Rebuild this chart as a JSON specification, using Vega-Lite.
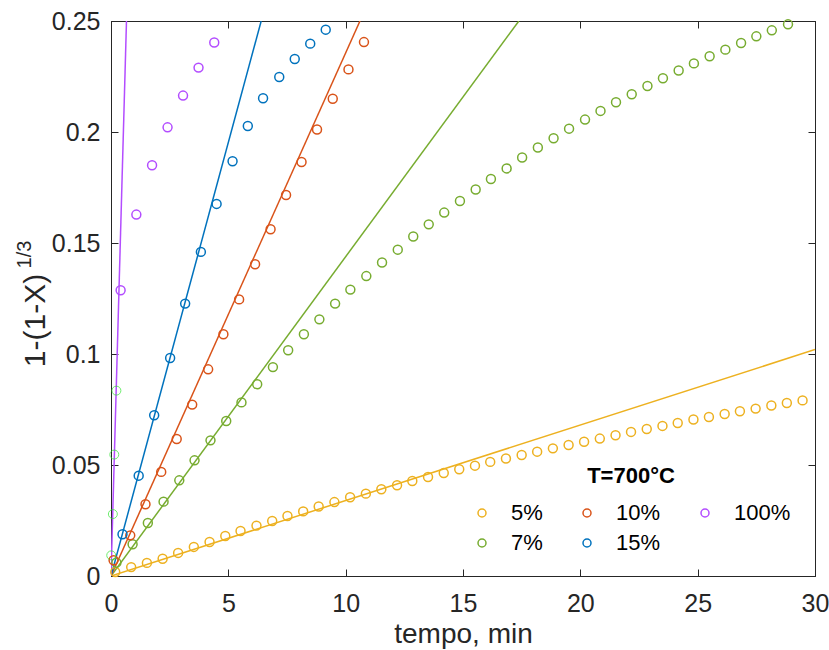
{
  "$schema": "https://vega.github.io/schema/vega-lite/v6.json",
  "width": 704,
  "height": 555,
  "autosize": {"type": "none"},
  "padding": {"left": 111, "top": 21, "right": 14, "bottom": 74},
  "background": "white",
  "datasets": {
    "pontos": [
      {"s": "5%", "t": 0.18, "y": 0.0018}, {"s": "5%", "t": 0.86, "y": 0.0040}, {"s": "5%", "t": 1.53, "y": 0.0059},
      {"s": "5%", "t": 2.20, "y": 0.0078}, {"s": "5%", "t": 2.86, "y": 0.0104}, {"s": "5%", "t": 3.53, "y": 0.0131},
      {"s": "5%", "t": 4.20, "y": 0.0153}, {"s": "5%", "t": 4.87, "y": 0.0180}, {"s": "5%", "t": 5.52, "y": 0.0203},
      {"s": "5%", "t": 6.20, "y": 0.0227}, {"s": "5%", "t": 6.87, "y": 0.0248}, {"s": "5%", "t": 7.52, "y": 0.0270},
      {"s": "5%", "t": 8.19, "y": 0.0291}, {"s": "5%", "t": 8.85, "y": 0.0313}, {"s": "5%", "t": 9.52, "y": 0.0333},
      {"s": "5%", "t": 10.19, "y": 0.0355}, {"s": "5%", "t": 10.86, "y": 0.0371}, {"s": "5%", "t": 11.52, "y": 0.0391},
      {"s": "5%", "t": 12.19, "y": 0.0409}, {"s": "5%", "t": 12.84, "y": 0.0428}, {"s": "5%", "t": 13.51, "y": 0.0446},
      {"s": "5%", "t": 14.18, "y": 0.0464}, {"s": "5%", "t": 14.84, "y": 0.0481}, {"s": "5%", "t": 15.51, "y": 0.0497},
      {"s": "5%", "t": 16.16, "y": 0.0514}, {"s": "5%", "t": 16.83, "y": 0.0529}, {"s": "5%", "t": 17.50, "y": 0.0545},
      {"s": "5%", "t": 18.16, "y": 0.0560}, {"s": "5%", "t": 18.83, "y": 0.0575}, {"s": "5%", "t": 19.50, "y": 0.0590},
      {"s": "5%", "t": 20.16, "y": 0.0605}, {"s": "5%", "t": 20.83, "y": 0.0619}, {"s": "5%", "t": 21.50, "y": 0.0634},
      {"s": "5%", "t": 22.16, "y": 0.0649}, {"s": "5%", "t": 22.83, "y": 0.0662}, {"s": "5%", "t": 23.50, "y": 0.0676},
      {"s": "5%", "t": 24.15, "y": 0.0689}, {"s": "5%", "t": 24.82, "y": 0.0705}, {"s": "5%", "t": 25.48, "y": 0.0716},
      {"s": "5%", "t": 26.15, "y": 0.0730}, {"s": "5%", "t": 26.80, "y": 0.0742}, {"s": "5%", "t": 27.47, "y": 0.0754},
      {"s": "5%", "t": 28.14, "y": 0.0768}, {"s": "5%", "t": 28.80, "y": 0.0779}, {"s": "5%", "t": 29.47, "y": 0.0791},

      {"s": "7%", "t": 0.23, "y": 0.0060}, {"s": "7%", "t": 0.92, "y": 0.0143}, {"s": "7%", "t": 1.57, "y": 0.0239},
      {"s": "7%", "t": 2.24, "y": 0.0335}, {"s": "7%", "t": 2.91, "y": 0.0431}, {"s": "7%", "t": 3.56, "y": 0.0521},
      {"s": "7%", "t": 4.24, "y": 0.0611}, {"s": "7%", "t": 4.91, "y": 0.0698}, {"s": "7%", "t": 5.56, "y": 0.0782},
      {"s": "7%", "t": 6.23, "y": 0.0864}, {"s": "7%", "t": 6.90, "y": 0.0941}, {"s": "7%", "t": 7.55, "y": 0.1017},
      {"s": "7%", "t": 8.22, "y": 0.1089}, {"s": "7%", "t": 8.88, "y": 0.1156}, {"s": "7%", "t": 9.55, "y": 0.1227},
      {"s": "7%", "t": 10.20, "y": 0.1290}, {"s": "7%", "t": 10.88, "y": 0.1351}, {"s": "7%", "t": 11.55, "y": 0.1412},
      {"s": "7%", "t": 12.22, "y": 0.1470}, {"s": "7%", "t": 12.88, "y": 0.1529}, {"s": "7%", "t": 13.54, "y": 0.1584},
      {"s": "7%", "t": 14.20, "y": 0.1637}, {"s": "7%", "t": 14.87, "y": 0.1689}, {"s": "7%", "t": 15.54, "y": 0.1741},
      {"s": "7%", "t": 16.19, "y": 0.1788}, {"s": "7%", "t": 16.86, "y": 0.1836}, {"s": "7%", "t": 17.52, "y": 0.1885},
      {"s": "7%", "t": 18.19, "y": 0.1930}, {"s": "7%", "t": 18.86, "y": 0.1972}, {"s": "7%", "t": 19.52, "y": 0.2015},
      {"s": "7%", "t": 20.20, "y": 0.2056}, {"s": "7%", "t": 20.86, "y": 0.2095}, {"s": "7%", "t": 21.52, "y": 0.2134},
      {"s": "7%", "t": 22.19, "y": 0.2170}, {"s": "7%", "t": 22.86, "y": 0.2207}, {"s": "7%", "t": 23.52, "y": 0.2242},
      {"s": "7%", "t": 24.19, "y": 0.2277}, {"s": "7%", "t": 24.84, "y": 0.2309}, {"s": "7%", "t": 25.51, "y": 0.2341},
      {"s": "7%", "t": 26.18, "y": 0.2371}, {"s": "7%", "t": 26.85, "y": 0.2401}, {"s": "7%", "t": 27.50, "y": 0.2431},
      {"s": "7%", "t": 28.16, "y": 0.2458}, {"s": "7%", "t": 28.85, "y": 0.2485},

      {"s": "10%", "t": 0.11, "y": 0.0071}, {"s": "10%", "t": 0.82, "y": 0.0183}, {"s": "10%", "t": 1.47, "y": 0.0323},
      {"s": "10%", "t": 2.14, "y": 0.0469}, {"s": "10%", "t": 2.80, "y": 0.0617}, {"s": "10%", "t": 3.46, "y": 0.0772},
      {"s": "10%", "t": 4.14, "y": 0.0931}, {"s": "10%", "t": 4.79, "y": 0.1089}, {"s": "10%", "t": 5.46, "y": 0.1246},
      {"s": "10%", "t": 6.14, "y": 0.1404}, {"s": "10%", "t": 6.80, "y": 0.1562}, {"s": "10%", "t": 7.46, "y": 0.1716},
      {"s": "10%", "t": 8.12, "y": 0.1865}, {"s": "10%", "t": 8.78, "y": 0.2011}, {"s": "10%", "t": 9.45, "y": 0.2150},
      {"s": "10%", "t": 10.12, "y": 0.2282}, {"s": "10%", "t": 10.78, "y": 0.2405},

      {"s": "15%", "t": 0.49, "y": 0.0188}, {"s": "15%", "t": 1.18, "y": 0.0452}, {"s": "15%", "t": 1.84, "y": 0.0724},
      {"s": "15%", "t": 2.52, "y": 0.0982}, {"s": "15%", "t": 3.16, "y": 0.1227}, {"s": "15%", "t": 3.83, "y": 0.1460},
      {"s": "15%", "t": 4.50, "y": 0.1676}, {"s": "15%", "t": 5.18, "y": 0.1868}, {"s": "15%", "t": 5.83, "y": 0.2027},
      {"s": "15%", "t": 6.48, "y": 0.2152}, {"s": "15%", "t": 7.17, "y": 0.2248}, {"s": "15%", "t": 7.83, "y": 0.2329},
      {"s": "15%", "t": 8.49, "y": 0.2398}, {"s": "15%", "t": 9.15, "y": 0.2461},

      {"s": "100%", "t": 0.41, "y": 0.1287}, {"s": "100%", "t": 1.08, "y": 0.1628}, {"s": "100%", "t": 1.75, "y": 0.1850},
      {"s": "100%", "t": 2.41, "y": 0.2021}, {"s": "100%", "t": 3.07, "y": 0.2164}, {"s": "100%", "t": 3.73, "y": 0.2290},
      {"s": "100%", "t": 4.40, "y": 0.2403}
    ],
    "iniciais": [
      {"t": 0.01, "y": 0.0093}, {"t": 0.08, "y": 0.0279}, {"t": 0.14, "y": 0.0547}, {"t": 0.23, "y": 0.0835}
    ],
    "ajuste": [
      {"s": "5%", "t": 0, "y": 0}, {"s": "5%", "t": 30, "y": 0.102},
      {"s": "7%", "t": 0, "y": 0}, {"s": "7%", "t": 17.38, "y": 0.25},
      {"s": "10%", "t": 0, "y": 0}, {"s": "10%", "t": 10.61, "y": 0.25},
      {"s": "15%", "t": 0, "y": 0}, {"s": "15%", "t": 6.4, "y": 0.25},
      {"s": "100%", "t": 0, "y": 0}, {"s": "100%", "t": 0.66, "y": 0.25}
    ]
  },
  "config": {
    "font": "Liberation Sans",
    "view": {"stroke": "#262626", "strokeWidth": 1},
    "axis": {
      "grid": false,
      "domainColor": "#262626",
      "tickColor": "#262626",
      "labelColor": "#262626",
      "titleColor": "#262626",
      "labelFont": "Liberation Sans",
      "titleFont": "Liberation Sans",
      "labelFontSize": 25,
      "titleFontSize": 28,
      "titleFontWeight": "normal",
      "tickSize": -7,
      "tickWidth": 1,
      "domainWidth": 1
    }
  },
  "layer": [
    {
      "data": {"name": "ajuste"},
      "mark": {"type": "line", "strokeWidth": 1.5, "clip": true},
      "encoding": {
        "x": {
          "field": "t", "type": "quantitative",
          "scale": {"domain": [0, 30], "nice": false, "zero": true},
          "axis": {"orient": "bottom", "title": "tempo, min", "values": [0, 5, 10, 15, 20, 25, 30], "labelPadding": 22, "titlePadding": 4, "labelFlush": false}
        },
        "y": {
          "field": "y", "type": "quantitative",
          "scale": {"domain": [0, 0.25], "nice": false},
          "axis": {
            "orient": "left", "title": "1-(1-X)", "titleFontSize": 30, "values": [0, 0.05, 0.1, 0.15, 0.2, 0.25], "format": "~g",
            "labelPadding": 18, "labelFlush": false,
            "titleAngle": -90, "titleAlign": "center", "titleBaseline": "middle", "titleX": -76, "titleY": 299
          }
        },
        "stroke": {
          "field": "s", "type": "nominal",
          "scale": {"domain": ["100%", "15%", "10%", "7%", "5%"], "range": ["#B34DFF", "#0072BD", "#D95319", "#77AC30", "#EDB120"]},
          "legend": null
        }
      }
    },
    {
      "data": {"name": "pontos"},
      "mark": {"type": "point", "shape": "circle", "filled": false, "size": 80, "strokeWidth": 1.5, "opacity": 1},
      "encoding": {
        "x": {
          "field": "t", "type": "quantitative",
          "axis": {"orient": "top", "title": null, "labels": false, "values": [0, 5, 10, 15, 20, 25, 30]}
        },
        "y": {
          "field": "y", "type": "quantitative",
          "axis": {"orient": "right", "title": null, "labels": false, "values": [0, 0.05, 0.1, 0.15, 0.2, 0.25]}
        },
        "color": {
          "field": "s", "type": "nominal",
          "scale": {"domain": ["5%", "7%", "10%", "15%", "100%"], "range": ["#EDB120", "#77AC30", "#D95319", "#0072BD", "#B34DFF"]},
          "legend": {
            "orient": "none", "legendX": 360, "legendY": 445,
            "title": "T=700°C", "titleFontSize": 22, "titleFontWeight": "bold", "titleColor": "black", "titleAnchor": "middle", "titlePadding": 14,
            "columns": 3, "columnPadding": 33, "rowPadding": 8,
            "labelFontSize": 22, "labelColor": "black", "labelOffset": 18,
            "symbolType": "circle", "symbolSize": 64, "symbolStrokeWidth": 1.5, "symbolFillColor": "transparent"
          }
        }
      }
    },
    {
      "data": {"name": "iniciais"},
      "mark": {"type": "point", "shape": "circle", "filled": false, "size": 80, "strokeWidth": 1, "color": "#2EE62E"},
      "encoding": {
        "x": {"field": "t", "type": "quantitative", "axis": null},
        "y": {
          "field": "y", "type": "quantitative",
          "axis": {
            "orient": "left", "title": "1/3", "titleFontSize": 20, "labels": false, "ticks": false, "domain": false,
            "titleAngle": -90, "titleAlign": "center", "titleBaseline": "middle", "titleX": -87, "titleY": 233
          }
        }
      }
    }
  ],
  "resolve": {"axis": {"x": "independent", "y": "independent"}}
}
